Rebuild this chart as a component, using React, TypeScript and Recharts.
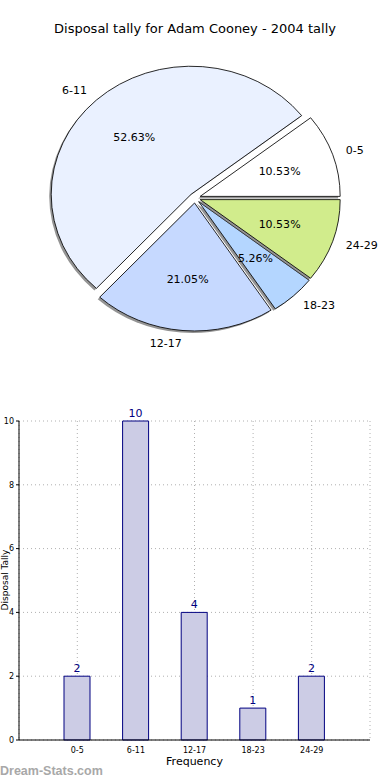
import { PieChart, Pie, Sector, BarChart, Bar, XAxis, YAxis, CartesianGrid, LabelList } from 'recharts';

const categories = ['0-5', '6-11', '12-17', '18-23', '24-29'];
const tallies = [2, 10, 4, 1, 2];
const explode = [0.039, 0.04, 0.039, 0.039, 0.039];
const sliceColors = ['#ffffff', '#eaf1ff', '#c6d9ff', '#b4d6ff', '#d1ec8c'];
const yTicks = [0, 2, 4, 6, 8, 10];

const data = categories.map((name, i) => ({ name, value: tallies[i] }));

const RAD = Math.PI / 180;
const SX = 140 / 128; // pie is drawn slightly wider than tall
const FONT = '"DejaVu Sans", Verdana, sans-serif';

const explodedCenter = (p: any) => {
  const cos = Math.cos(-p.midAngle * RAD);
  const sin = Math.sin(-p.midAngle * RAD);
  const e = explode[p.index];
  return {
    cos,
    sin,
    ox: p.cx + e * p.outerRadius * SX * cos,
    oy: p.cy + e * p.outerRadius * sin,
  };
};

const renderWedge = (p: any) => {
  const { ox, oy } = explodedCenter(p);
  const sh = (x: number, y: number) => `translate(${x} ${y}) scale(${SX} 1) translate(${-x} ${-y})`;
  return (
    <g key={`w-${p.index}`}>
      <g transform={sh(ox - 2, oy + 2)}>
        <Sector
          cx={ox - 2}
          cy={oy + 2}
          innerRadius={0}
          outerRadius={p.outerRadius}
          startAngle={p.startAngle}
          endAngle={p.endAngle}
          fill="#4d4d4d"
          fillOpacity={0.6}
          stroke="none"
        />
      </g>
      <g transform={sh(ox, oy)}>
        <Sector
          cx={ox}
          cy={oy}
          innerRadius={0}
          outerRadius={p.outerRadius}
          startAngle={p.startAngle}
          endAngle={p.endAngle}
          fill={sliceColors[p.index]}
          stroke="#000"
          strokeWidth={0.8}
        />
      </g>
    </g>
  );
};

const renderText = (p: any) => {
  const { cos, sin, ox, oy } = explodedCenter(p);
  const r = p.outerRadius;
  return (
    <g key={`t-${p.index}`} fontFamily={FONT} fontSize={11} fill="#000">
      <text x={ox + 0.6 * r * SX * cos} y={oy + 0.6 * r * sin} textAnchor="middle" dominantBaseline="central">
        {(p.percent * 100).toFixed(2)}%
      </text>
      <text
        x={ox + 1.1 * r * SX * cos}
        y={oy + 1.1 * r * sin}
        textAnchor={cos >= 0 ? 'start' : 'end'}
        dominantBaseline="central"
      >
        {p.name}
      </text>
    </g>
  );
};

export default function App() {
  return (
    <div style={{ position: 'absolute', left: 0, top: 0, width: 390, height: 780, background: '#fff', overflow: 'hidden', fontFamily: FONT }}>
      <div style={{ position: 'absolute', top: 21, left: 0, width: 390, textAlign: 'center', fontSize: 13, color: '#000' }}>
        Disposal tally for Adam Cooney - 2004 tally
      </div>
      <div style={{ position: 'absolute', top: 0, left: 0 }}>
        <PieChart width={390} height={380} margin={{ top: 0, right: 0, bottom: 0, left: 0 }}>
          <Pie
            data={data}
            dataKey="value"
            nameKey="name"
            cx={195}
            cy={198}
            outerRadius={128}
            startAngle={0}
            endAngle={360}
            fill="none"
            stroke="none"
            labelLine={false}
            label={renderWedge}
            isAnimationActive={false}
          />
          <Pie
            data={data}
            dataKey="value"
            nameKey="name"
            cx={195}
            cy={198}
            outerRadius={128}
            startAngle={0}
            endAngle={360}
            fill="none"
            stroke="none"
            labelLine={false}
            label={renderText}
            isAnimationActive={false}
          />
        </PieChart>
      </div>
      <div style={{ position: 'absolute', top: 400, left: 0 }}>
        <BarChart width={390} height={380} data={data} margin={{ top: 21, right: 20, left: 4, bottom: 10 }}>
          <CartesianGrid stroke="#b0b0b0" strokeDasharray="1 3" />
          <XAxis
            dataKey="name"
            height={30}
            padding={{ left: 29, right: 29 }}
            tick={{ fontSize: 8, fill: '#000', fontFamily: FONT }}
            tickLine={false}
            tickMargin={1}
            axisLine={{ stroke: '#000' }}
            label={{ value: 'Frequency', position: 'insideBottom', offset: 5, fontSize: 11, fill: '#000', fontFamily: FONT }}
          />
          <XAxis xAxisId="top" dataKey="name" orientation="top" height={0} tick={false} tickLine={false} axisLine={{ stroke: '#000' }} />
          <YAxis
            width={15}
            domain={[0, 10]}
            ticks={yTicks}
            interval={0}
            tick={{ fontSize: 8, fill: '#000', fontFamily: FONT }}
            tickSize={3}
            tickLine={{ stroke: '#000' }}
            axisLine={{ stroke: '#000' }}
          />
          <YAxis yAxisId="right" orientation="right" width={0} domain={[0, 10]} tick={false} tickLine={false} axisLine={{ stroke: '#000' }} />
          <Bar dataKey="value" barSize={26} fill="#ccccE5" stroke="#000080" strokeWidth={1} isAnimationActive={false}>
            <LabelList dataKey="value" position="top" offset={4} fill="#000080" fontSize={11} fontFamily={FONT} />
          </Bar>
        </BarChart>
      </div>
      <svg style={{ position: 'absolute', left: 0, top: 520 }} width={12} height={120}>
        <text x={5} y={60} transform="rotate(-90 5 60)" textAnchor="middle" dominantBaseline="central" fontSize={9} fontFamily={FONT} fill="#000">
          Disposal Tally
        </text>
      </svg>
      <div style={{ position: 'absolute', left: 0, top: 764, fontFamily: '"Liberation Sans", Arial, sans-serif', fontWeight: 'bold', fontSize: 12.5, color: '#a8a8a8' }}>
        Dream-Stats.com
      </div>
    </div>
  );
}
